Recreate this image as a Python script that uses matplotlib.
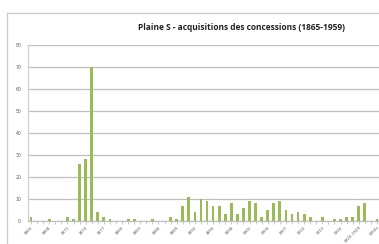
import numpy as np
import matplotlib
matplotlib.use("Agg")
import matplotlib.pyplot as plt
from matplotlib.lines import Line2D

# categories: one per year 1865-1918, then grouped decades
years = [str(y) for y in range(1865, 1919)]
categories = years + ["1920-1929", "1930-1939", "1940-1949", "1950s"]

values = [2, 0, 0, 1, 0, 0, 2, 1, 26, 28,
          70, 4, 2, 1, 0, 0, 1, 1, 0, 0,
          1, 0, 0, 2, 1, 7, 11, 4, 10, 9,
          7, 7, 3, 8, 3, 6, 9, 8, 2, 5,
          8, 9, 5, 3, 4, 3, 2, 0, 2, 0,
          1, 1, 2, 2, 7, 8, 0, 1]

title = "Plaine S - acquisitions des concessions (1865-1959)"
bar_color = "#9BBB59"
grid_color = "#BFBFBF"

W, H = 379, 244
fig = plt.figure(figsize=(W / 100, H / 100), dpi=100)

# outer chart frame (cut by the screenshot on the right and bottom)
fx, fy = 7 / W, 1 - 13 / H
fig.add_artist(Line2D([fx, fx], [0, fy], color="#C8C8C8", lw=0.9, transform=fig.transFigure))
fig.add_artist(Line2D([fx, 1.0], [fy, fy], color="#C8C8C8", lw=0.9, transform=fig.transFigure))

left, right = 28 / W, 380 / W
bottom, top = 1 - 221 / H, 1 - 45 / H
ax = fig.add_axes([left, bottom, right - left, top - bottom])

x = np.arange(len(categories))
ax.bar(x, values, width=0.45, color=bar_color, zorder=3)

ax.set_xlim(-0.5, len(categories) - 0.5)
ax.set_ylim(0, 80)
ax.set_yticks(range(0, 81, 10))
ax.yaxis.grid(True, color=grid_color, lw=0.9, zorder=0)
ax.tick_params(axis="y", length=0, labelsize=3.3, labelcolor="#5a5a5a", pad=5)

ax.set_xticks(x[::3])
ax.set_xticklabels(categories[::3], rotation=45, ha="right", rotation_mode="anchor",
                   fontsize=3.0, color="#5a5a5a")
ax.set_xticks(x, minor=True)
ax.tick_params(axis="x", which="both", length=2, color="#BFBFBF", width=0.6, pad=1.0)

for s in ["top", "right"]:
    ax.spines[s].set_visible(False)
ax.spines["left"].set_color("#D0D0D0")
ax.spines["bottom"].set_color("#BFBFBF")
ax.spines["left"].set_linewidth(0.9)
ax.spines["bottom"].set_linewidth(0.9)

fig.text(242 / W, 1 - 28 / H, title, ha="center", va="center",
         fontsize=6.0, fontweight="bold", family="Open Sans", color="#222222")

fig.savefig("out.png", dpi=100)
